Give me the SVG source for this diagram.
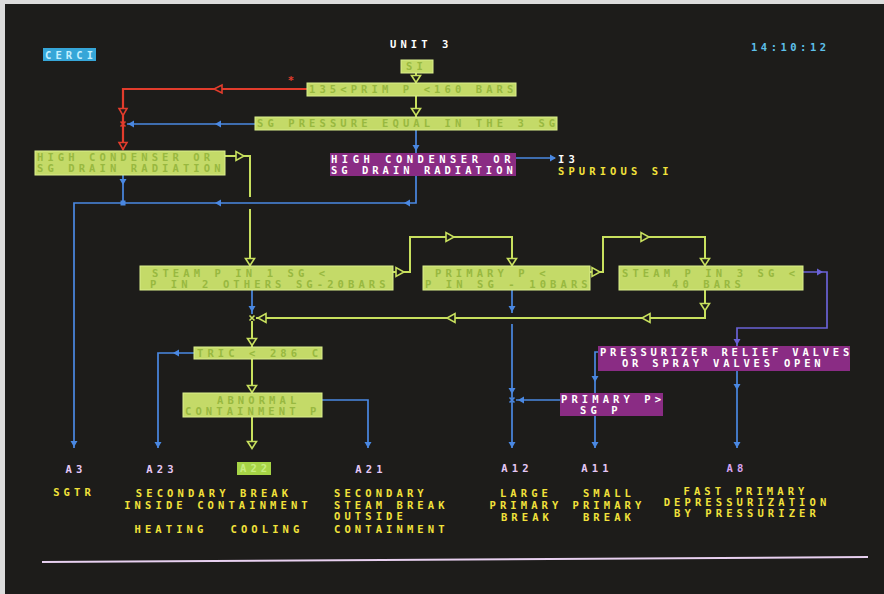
<svg xmlns="http://www.w3.org/2000/svg" xmlns:xlink="http://www.w3.org/1999/xlink" width="884" height="594" viewBox="0 0 884 594" xml:space="preserve">
<style>
.t{font-family:"DejaVu Sans Mono","Liberation Mono",monospace;font-weight:bold;font-size:10.5px;letter-spacing:4.1px}
.gb{fill:#c4da68;stroke:#dcef8c;stroke-width:1}
.gt{fill:#98b840}
.mb{fill:#8a2c84}
.wt{fill:#ffffff}
.yt{fill:#f2e23a}
.lv{fill:#e6c8f6}
.g{fill:none;stroke:#c8e05e;stroke-width:2}
.b{fill:none;stroke:#4a88e2;stroke-width:1.7}
.v{fill:none;stroke:#6a62d6;stroke-width:1.7}
.r{fill:none;stroke:#e23c2c;stroke-width:2.2}
.m{text-anchor:middle}
</style>
<defs>
<path id="gd" d="M-4.5,-3.5 L4.5,-3.5 L0,3.5 Z" fill="#1d1c1a" stroke="#c8e05e" stroke-width="1.6"/>
<path id="gl" d="M4,-4.5 L4,4.5 L-4,0 Z" fill="#1d1c1a" stroke="#c8e05e" stroke-width="1.6"/>
<path id="gr" d="M-4,-4.5 L-4,4.5 L4,0 Z" fill="#1d1c1a" stroke="#c8e05e" stroke-width="1.6"/>
<path id="rd" d="M-4,-3.5 L4,-3.5 L0,3.5 Z" fill="#1d1c1a" stroke="#e23c2c" stroke-width="1.6"/>
<path id="rl" d="M4,-4 L4,4 L-4,0 Z" fill="#1d1c1a" stroke="#e23c2c" stroke-width="1.6"/>
<path id="bd" d="M-3.5,-3 L3.5,-3 L0,3 Z" fill="#4a88e2"/>
<path id="bl" d="M3,-3.5 L3,3.5 L-3,0 Z" fill="#4a88e2"/>
<path id="br" d="M-3,-3.5 L-3,3.5 L3,0 Z" fill="#4a88e2"/>
<path id="vd" d="M-3.5,-3 L3.5,-3 L0,3 Z" fill="#6a62d6"/>
<path id="vr" d="M-3,-3.5 L-3,3.5 L3,0 Z" fill="#6a62d6"/>
</defs>
<rect x="0" y="0" width="884" height="594" fill="#dcdcdc"/>
<rect x="5" y="4" width="879" height="590" fill="#1d1c1a"/>

<g id="connectors">
<path class="r" d="M307,89 H123 V150"/>
<use href="#rl" x="218" y="89"/>
<use href="#rd" x="123" y="112"/>
<use href="#rd" x="123" y="146"/>
<path d="M120.5,121.5 L125.5,126.5 M125.5,121.5 L120.5,126.5" stroke="#e23c2c" stroke-width="1.6"/>
<text x="291" y="84" class="t m" fill="#e23c2c" style="letter-spacing:0">*</text>
<path class="b" d="M255,124 H127"/>
<use href="#bl" x="218" y="124"/>
<use href="#bl" x="131" y="124"/>
<path class="g" d="M416,73 V83"/>
<use href="#gd" x="416" y="79"/>
<path class="g" d="M416,96 V117"/>
<use href="#gd" x="416" y="112"/>
<path class="b" d="M416,130 V153"/>
<use href="#bd" x="416" y="148"/>
<path class="b" d="M516,158 H555"/>
<use href="#br" x="553" y="158"/>
<path class="b" d="M416,176 V203 H74 V448"/>
<use href="#bl" x="407" y="203"/>
<use href="#bl" x="218" y="203"/>
<use href="#bd" x="74" y="444"/>
<path class="b" d="M123,175 V203"/>
<use href="#bd" x="123" y="182"/>
<rect x="120.5" y="200.5" width="5" height="5" fill="#4a88e2"/>
<path class="g" d="M225,156 H250 V197 M250,209 V266"/>
<use href="#gr" x="240" y="156"/>
<use href="#gd" x="250" y="262"/>
<path class="g" d="M393,272 H410 V237 H512 V266"/>
<use href="#gr" x="400" y="272"/>
<use href="#gr" x="450" y="237"/>
<use href="#gd" x="512" y="262"/>
<path class="g" d="M590,272 H603 V237 H705 V266"/>
<use href="#gr" x="596" y="272"/>
<use href="#gr" x="645" y="237"/>
<use href="#gd" x="705" y="262"/>
<path class="g" d="M705,290 V318 H256"/>
<use href="#gd" x="705" y="307"/>
<use href="#gl" x="646" y="318"/>
<use href="#gl" x="451" y="318"/>
<use href="#gl" x="262" y="318"/>
<path class="b" d="M252,290 V314"/>
<use href="#bd" x="252" y="309"/>
<path d="M249.5,315.5 L254.5,320.5 M254.5,315.5 L249.5,320.5" stroke="#c8e05e" stroke-width="1.6"/>
<path class="g" d="M252,321 V347"/>
<use href="#gd" x="252" y="342"/>
<path class="g" d="M252,359 V393"/>
<use href="#gd" x="252" y="389"/>
<path class="g" d="M252,417 V448"/>
<use href="#gd" x="252" y="445"/>
<path class="b" d="M512,290 V313 M512,324 V448"/>
<use href="#bd" x="512" y="309"/>
<use href="#bd" x="512" y="391"/>
<use href="#bd" x="512" y="445"/>
<path d="M509.5,397.5 L514.5,402.5 M514.5,397.5 L509.5,402.5" stroke="#4a88e2" stroke-width="1.6"/>
<path class="b" d="M560,400 H516"/>
<use href="#bl" x="521" y="400"/>
<path class="v" d="M803,272 H827 V328 H737 V346"/>
<use href="#vr" x="820" y="272"/>
<use href="#vd" x="737" y="342"/>
<path class="b" d="M737,371 V448"/>
<use href="#bd" x="737" y="387"/>
<use href="#bd" x="737" y="445"/>
<path class="b" d="M600,352 H595 V448"/>
<use href="#bd" x="595" y="379"/>
<use href="#bd" x="595" y="445"/>
<path class="b" d="M194,353 H158 V448"/>
<use href="#bl" x="176" y="353"/>
<use href="#bd" x="158" y="445"/>
<path class="b" d="M322,400 H368 V448"/>
<use href="#bd" x="368" y="445"/>
</g>

<g id="header">
<rect x="43" y="48" width="53" height="13" fill="#36a6d8"/>
<text x="45" y="59" class="t" fill="#c4f0ff">CERCI</text>
<text x="390" y="48" class="t" fill="#ffffff">UNIT  3</text>
<text x="751" y="51" class="t" fill="#5ec0ea" style="letter-spacing:3.5px">14:10:12</text>
</g>

<g id="n-si">
<rect x="401" y="60" width="32" height="13" class="gb"/>
<text x="406" y="70" class="t gt">SI</text>
</g>
<g id="n-prim">
<rect x="307" y="83" width="209" height="13" class="gb"/>
<text x="309" y="93" class="t gt">135&lt;PRIM P &lt;160 BARS</text>
</g>
<g id="n-sgp">
<rect x="255" y="117" width="302" height="13" class="gb"/>
<text x="257" y="127" class="t gt">SG PRESSURE EQUAL IN THE 3 SG</text>
</g>
<g id="n-hcsg1">
<rect x="35" y="151" width="190" height="24" class="gb"/>
<text x="37" y="161" class="t gt">HIGH CONDENSER OR</text>
<text x="37" y="172" class="t gt">SG DRAIN RADIATION</text>
</g>
<g id="n-hcsg2">
<rect x="330" y="153" width="186" height="23" class="mb"/>
<text x="331" y="163" class="t wt" style="letter-spacing:4.5px">HIGH CONDENSER OR</text>
<text x="331" y="174" class="t wt" style="letter-spacing:4px">SG DRAIN RADIATION</text>
</g>
<g id="n-i3">
<text x="558" y="163" class="t wt">I3</text>
<text x="558" y="175" class="t yt">SPURIOUS SI</text>
</g>
<g id="n-steam1">
<rect x="140" y="266" width="253" height="24" class="gb"/>
<text x="152" y="277" class="t gt">STEAM P IN 1 SG  &lt;</text>
<text x="150" y="288" class="t gt">P IN 2 OTHERS SG-20BARS</text>
</g>
<g id="n-primsg">
<rect x="423" y="266" width="167" height="24" class="gb"/>
<text x="435" y="277" class="t gt">PRIMARY P  &lt;</text>
<text x="425" y="288" class="t gt">P IN SG - 10BARS</text>
</g>
<g id="n-steam3">
<rect x="619" y="266" width="184" height="24" class="gb"/>
<text x="622" y="277" class="t gt">STEAM P IN 3 SG &lt;</text>
<text x="672" y="288" class="t gt">40 BARS</text>
</g>
<g id="n-tric">
<rect x="194" y="347" width="128" height="12" class="gb"/>
<text x="197" y="357" class="t gt">TRIC &lt; 286 C</text>
</g>
<g id="n-abn">
<rect x="183" y="393" width="139" height="24" class="gb"/>
<text x="217" y="404" class="t gt">ABNORMAL</text>
<text x="185" y="415" class="t gt">CONTAINMENT P</text>
</g>
<g id="n-press">
<rect x="598" y="346" width="252" height="25" class="mb"/>
<text x="600" y="356" class="t wt" style="letter-spacing:3.8px">PRESSURIZER RELIEF VALVES</text>
<text x="622" y="367" class="t wt" style="letter-spacing:3.8px">OR SPRAY VALVES OPEN</text>
</g>
<g id="n-primsgp">
<rect x="560" y="393" width="103" height="23" class="mb"/>
<text x="561" y="403" class="t wt">PRIMARY P&gt;</text>
<text x="580" y="414" class="t wt">SG P</text>
</g>

<g id="n-a3">
<text x="76" y="473" class="t lv m">A3</text>
<text x="74" y="496" class="t yt m">SGTR</text>
</g>
<g id="n-a23">
<text x="162" y="473" class="t lv m">A23</text>
<text x="214" y="497" class="t yt m">SECONDARY BREAK</text>
<text x="218" y="509" class="t yt m">INSIDE CONTAINMENT</text>
<text x="171" y="533" class="t yt m">HEATING</text>
<text x="267" y="533" class="t yt m">COOLING</text>
</g>
<g id="n-a22">
<rect x="237" y="462" width="34" height="13" fill="#a6d446"/>
<text x="240" y="472" class="t" fill="#c8ec80">A22</text>
</g>
<g id="n-a21">
<text x="371" y="473" class="t lv m">A21</text>
<text x="334" y="497" class="t yt">SECONDARY</text>
<text x="334" y="509" class="t yt">STEAM BREAK</text>
<text x="334" y="520" class="t yt">OUTSIDE</text>
<text x="334" y="533" class="t yt">CONTAINMENT</text>
</g>
<g id="n-a12">
<text x="517" y="472" class="t lv m">A12</text>
<text x="526" y="497" class="t yt m">LARGE</text>
<text x="526" y="509" class="t yt m">PRIMARY</text>
<text x="527" y="521" class="t yt m">BREAK</text>
</g>
<g id="n-a11">
<text x="597" y="472" class="t lv m">A11</text>
<text x="609" y="497" class="t yt m">SMALL</text>
<text x="609" y="509" class="t yt m">PRIMARY</text>
<text x="609" y="521" class="t yt m">BREAK</text>
</g>
<g id="n-a8">
<text x="737" y="472" class="t m" fill="#d8a4f2">A8</text>
<text x="746" y="495" class="t yt m">FAST PRIMARY</text>
<text x="747" y="506" class="t yt m">DEPRESSURIZATION</text>
<text x="747" y="517" class="t yt m">BY PRESSURIZER</text>
</g>
<line x1="42" y1="562" x2="868" y2="557" stroke="#e8d0f0" stroke-width="2"/>
</svg>
